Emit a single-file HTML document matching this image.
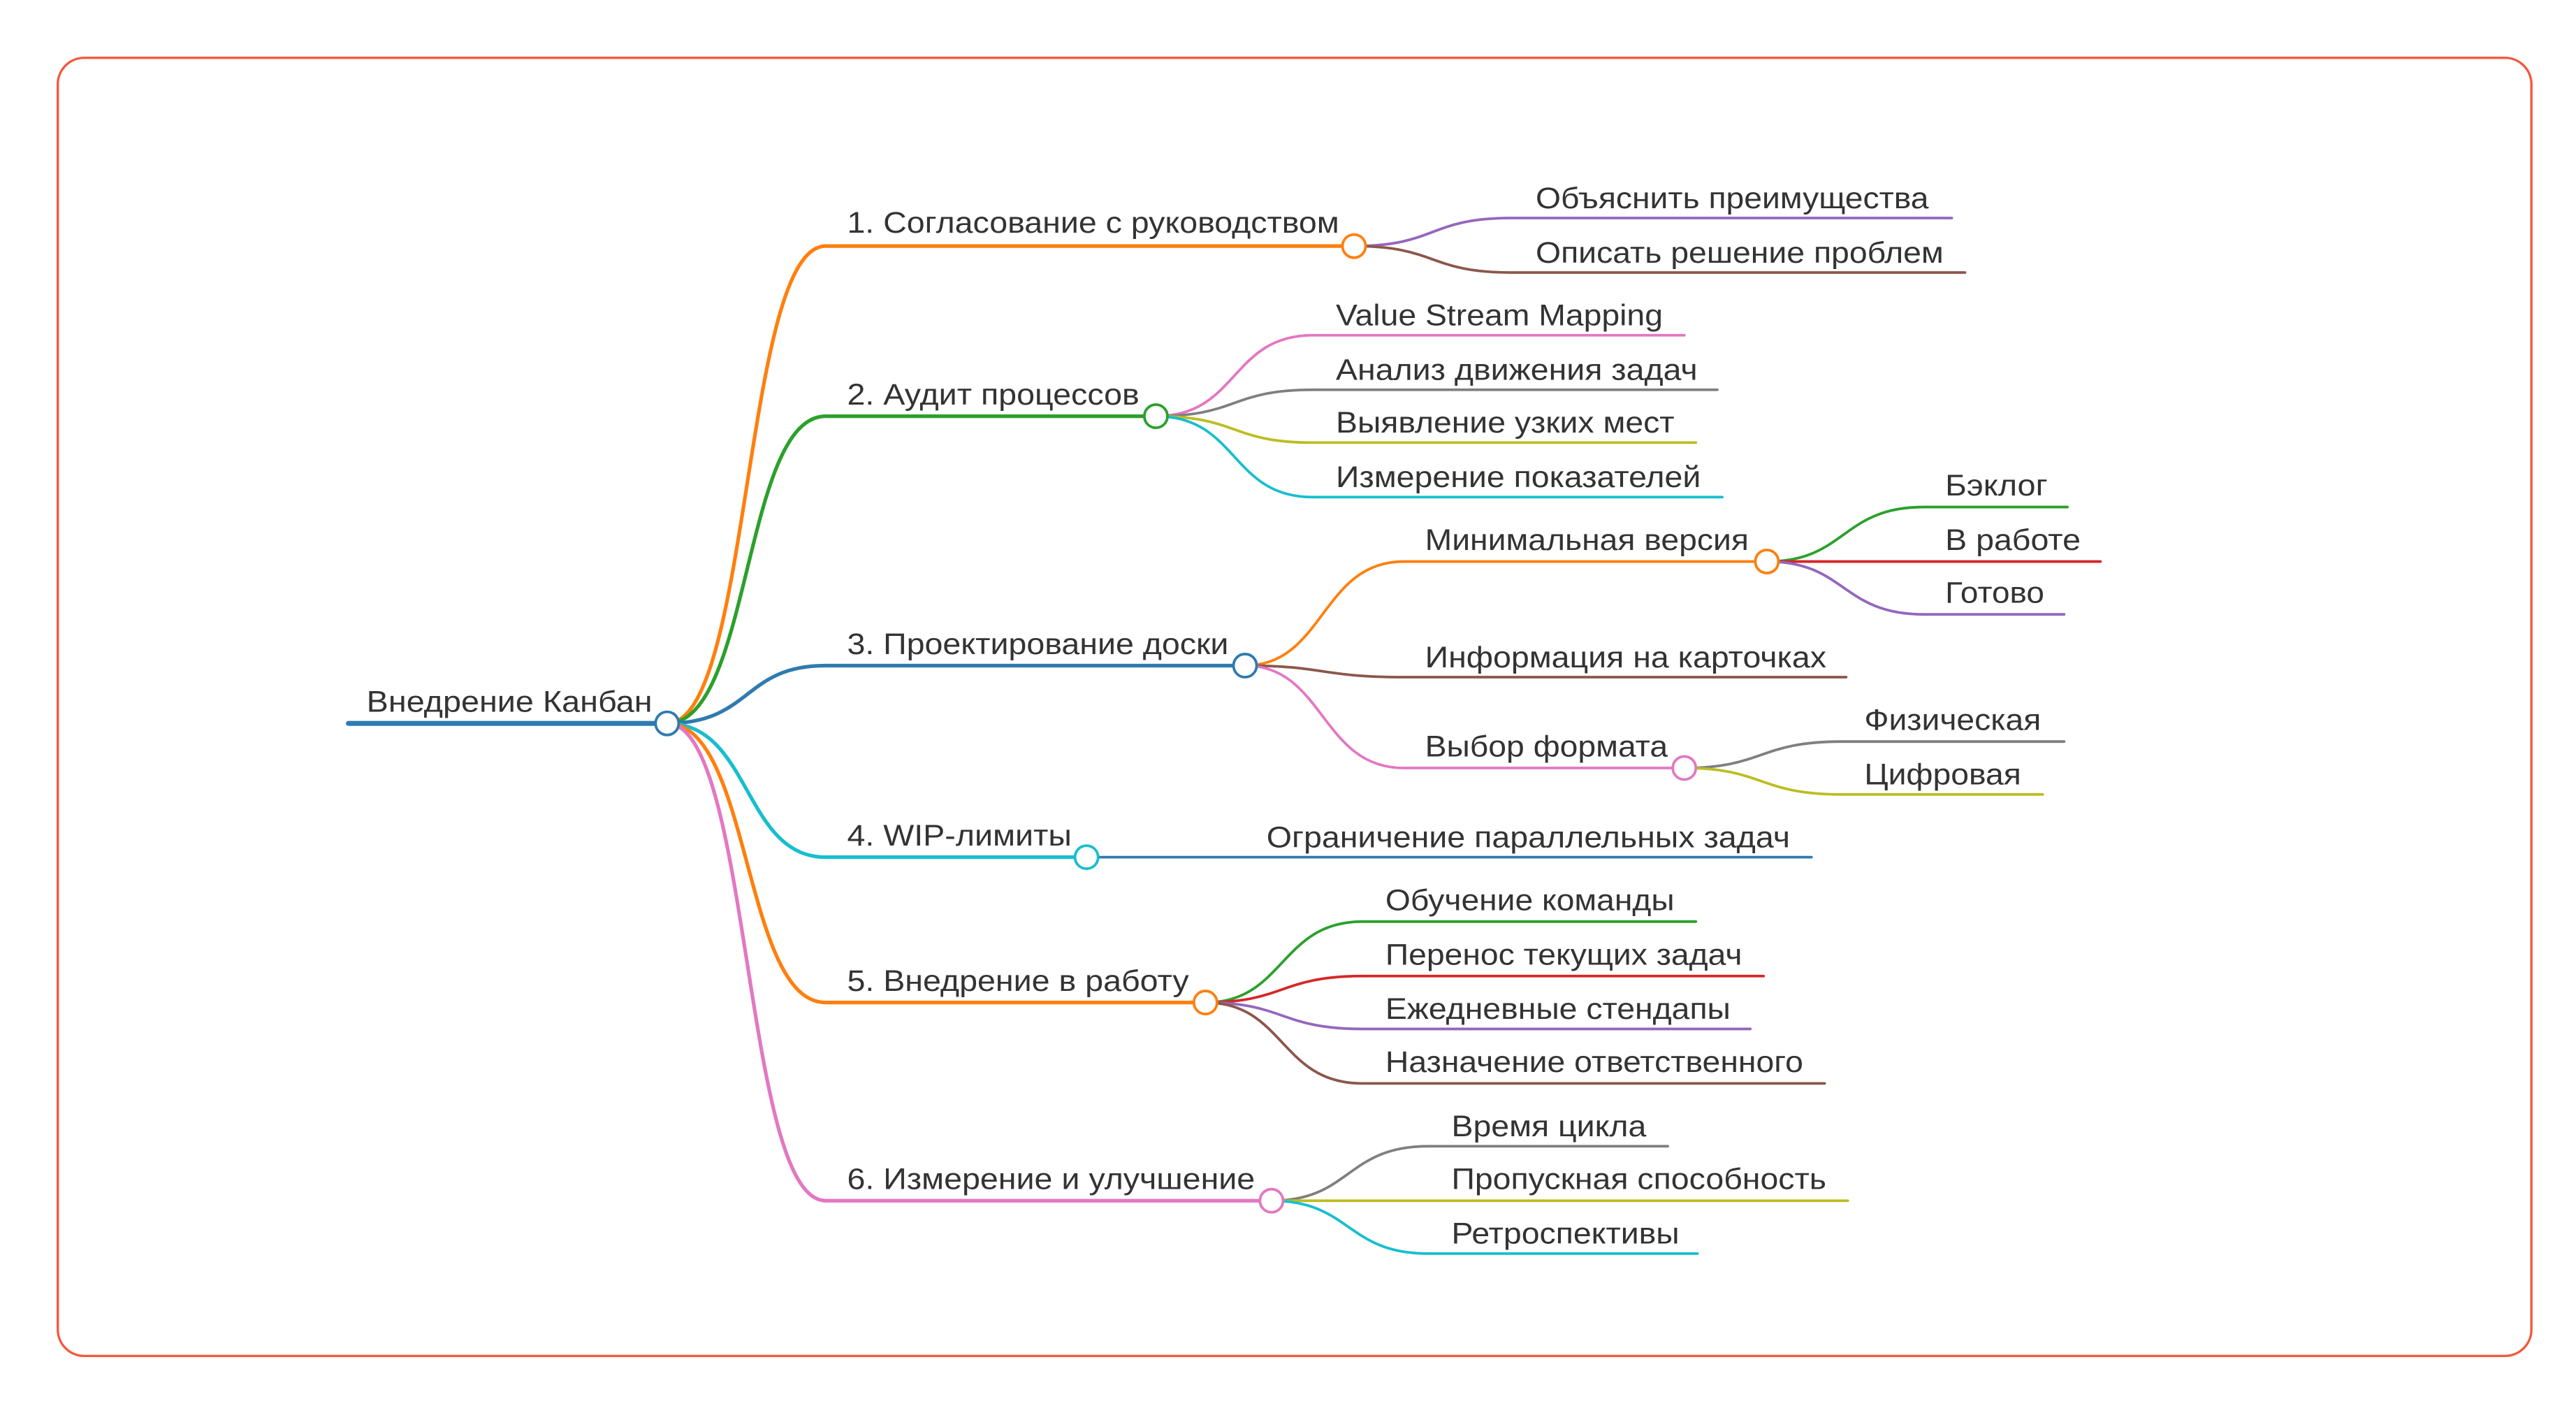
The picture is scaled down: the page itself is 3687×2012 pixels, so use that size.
<!DOCTYPE html>
<html><head><meta charset="utf-8"><style>
html,body{margin:0;padding:0;background:#fff;width:3687px;height:2012px;overflow:hidden}
text{font-family:"Liberation Sans","Noto Sans CJK SC",sans-serif;font-size:18px;fill:#333}
</style></head><body>
<svg width="3687" height="2012" viewBox="0 0 1560 851.3" xmlns="http://www.w3.org/2000/svg">
<rect x="35" y="35" width="1498" height="786" rx="16" fill="none" stroke="#f4563a" stroke-width="1.4"/>
<g fill="none" stroke-linecap="round">
<!-- root -->
<line x1="211" y1="438" x2="404" y2="438" stroke="#2e7bb0" stroke-width="3"/>
<!-- level1 curves + lines -->
<path d="M404,438 C455,438 450,149 500,149 L820,149" stroke="#ff7f0e" stroke-width="2.2"/>
<path d="M404,438 C455,438 450,252 500,252 L700,252" stroke="#2ca02c" stroke-width="2.2"/>
<path d="M404,438 C455,438 450,403 500,403 L754,403" stroke="#2e7bb0" stroke-width="2.2"/>
<path d="M404,438 C455,438 450,519 500,519 L658,519" stroke="#17becf" stroke-width="2.2"/>
<path d="M404,438 C455,438 450,607 500,607 L730,607" stroke="#ff7f0e" stroke-width="2.2"/>
<path d="M404,438 C455,438 450,727 500,727 L770,727" stroke="#e377c2" stroke-width="2.2"/>
<!-- children of 1 -->
<path d="M820,149 C870,149 865,132 915,132 L1182,132" stroke="#9467bd" stroke-width="1.6"/>
<path d="M820,149 C870,149 865,165 915,165 L1190,165" stroke="#8c564b" stroke-width="1.6"/>
<!-- children of 2 -->
<path d="M700,252 C750,252 745,203 795,203 L1020,203" stroke="#e377c2" stroke-width="1.6"/>
<path d="M700,252 C750,252 745,236 795,236 L1040,236" stroke="#7f7f7f" stroke-width="1.6"/>
<path d="M700,252 C750,252 745,268 795,268 L1027,268" stroke="#bcbd22" stroke-width="1.6"/>
<path d="M700,252 C750,252 745,301 795,301 L1043,301" stroke="#17becf" stroke-width="1.6"/>
<!-- children of 3 -->
<path d="M754,403 C802,403 800,340 850,340 L1070,340" stroke="#ff7f0e" stroke-width="1.6"/>
<path d="M754,403 C802,403 800,410 850,410 L1118,410" stroke="#8c564b" stroke-width="1.6"/>
<path d="M754,403 C802,403 800,465 850,465 L1020,465" stroke="#e377c2" stroke-width="1.6"/>
<path d="M1070,340 C1118,340 1115,307 1165,307 L1252,307" stroke="#2ca02c" stroke-width="1.6"/>
<path d="M1070,340 L1272,340" stroke="#d62728" stroke-width="1.6"/>
<path d="M1070,340 C1118,340 1115,372 1165,372 L1250,372" stroke="#9467bd" stroke-width="1.6"/>
<path d="M1020,465 C1068,465 1065,449 1115,449 L1250,449" stroke="#7f7f7f" stroke-width="1.6"/>
<path d="M1020,465 C1068,465 1065,481 1115,481 L1237,481" stroke="#bcbd22" stroke-width="1.6"/>
<!-- child of 4 -->
<path d="M658,519 L1097,519" stroke="#2e7bb0" stroke-width="1.6"/>
<!-- children of 5 -->
<path d="M730,607 C778,607 775,558 825,558 L1027,558" stroke="#2ca02c" stroke-width="1.6"/>
<path d="M730,607 C778,607 775,591 825,591 L1068,591" stroke="#d62728" stroke-width="1.6"/>
<path d="M730,607 C778,607 775,623 825,623 L1060,623" stroke="#9467bd" stroke-width="1.6"/>
<path d="M730,607 C778,607 775,656 825,656 L1105,656" stroke="#8c564b" stroke-width="1.6"/>
<!-- children of 6 -->
<path d="M770,727 C818,727 815,694 865,694 L1010,694" stroke="#7f7f7f" stroke-width="1.6"/>
<path d="M770,727 L1119,727" stroke="#bcbd22" stroke-width="1.6"/>
<path d="M770,727 C818,727 815,759 865,759 L1028,759" stroke="#17becf" stroke-width="1.6"/>
</g>
<!-- circles -->
<g fill="#fff" stroke-width="1.6">
<circle cx="404" cy="438" r="7" stroke="#2e7bb0"/>
<circle cx="820" cy="149" r="7" stroke="#ff7f0e"/>
<circle cx="700" cy="252" r="7" stroke="#2ca02c"/>
<circle cx="754" cy="403" r="7" stroke="#2e7bb0"/>
<circle cx="658" cy="519" r="7" stroke="#17becf"/>
<circle cx="730" cy="607" r="7" stroke="#ff7f0e"/>
<circle cx="770" cy="727" r="7" stroke="#e377c2"/>
<circle cx="1070" cy="340" r="7" stroke="#ff7f0e"/>
<circle cx="1020" cy="465" r="7" stroke="#e377c2"/>
</g>
<!-- labels -->
<g lengthAdjust="spacingAndGlyphs">
<text x="222" y="431" textLength="173" lengthAdjust="spacingAndGlyphs">Внедрение Канбан</text>
<text x="513" y="141" textLength="298" lengthAdjust="spacingAndGlyphs">1. Согласование с руководством</text>
<text x="513" y="245" textLength="177" lengthAdjust="spacingAndGlyphs">2. Аудит процессов</text>
<text x="513" y="396" textLength="231" lengthAdjust="spacingAndGlyphs">3. Проектирование доски</text>
<text x="513" y="512" textLength="136" lengthAdjust="spacingAndGlyphs">4. WIP-лимиты</text>
<text x="513" y="600" textLength="207" lengthAdjust="spacingAndGlyphs">5. Внедрение в работу</text>
<text x="513" y="720" textLength="247" lengthAdjust="spacingAndGlyphs">6. Измерение и улучшение</text>

<text x="930" y="126" textLength="238" lengthAdjust="spacingAndGlyphs">Объяснить преимущества</text>
<text x="930" y="159" textLength="247" lengthAdjust="spacingAndGlyphs">Описать решение проблем</text>

<text x="809" y="197" textLength="198" lengthAdjust="spacingAndGlyphs">Value Stream Mapping</text>
<text x="809" y="230" textLength="219" lengthAdjust="spacingAndGlyphs">Анализ движения задач</text>
<text x="809" y="262" textLength="205" lengthAdjust="spacingAndGlyphs">Выявление узких мест</text>
<text x="809" y="295" textLength="221" lengthAdjust="spacingAndGlyphs">Измерение показателей</text>

<text x="863" y="333" textLength="196" lengthAdjust="spacingAndGlyphs">Минимальная версия</text>
<text x="863" y="404" textLength="243" lengthAdjust="spacingAndGlyphs">Информация на карточках</text>
<text x="863" y="458" textLength="147" lengthAdjust="spacingAndGlyphs">Выбор формата</text>

<text x="1178" y="300" textLength="62" lengthAdjust="spacingAndGlyphs">Бэклог</text>
<text x="1178" y="333" textLength="82" lengthAdjust="spacingAndGlyphs">В работе</text>
<text x="1178" y="365" textLength="60" lengthAdjust="spacingAndGlyphs">Готово</text>

<text x="1129" y="442" textLength="107" lengthAdjust="spacingAndGlyphs">Физическая</text>
<text x="1129" y="475" textLength="95" lengthAdjust="spacingAndGlyphs">Цифровая</text>

<text x="767" y="513" textLength="317" lengthAdjust="spacingAndGlyphs">Ограничение параллельных задач</text>

<text x="839" y="551" textLength="175" lengthAdjust="spacingAndGlyphs">Обучение команды</text>
<text x="839" y="584" textLength="216" lengthAdjust="spacingAndGlyphs">Перенос текущих задач</text>
<text x="839" y="617" textLength="209" lengthAdjust="spacingAndGlyphs">Ежедневные стендапы</text>
<text x="839" y="649" textLength="253" lengthAdjust="spacingAndGlyphs">Назначение ответственного</text>

<text x="879" y="688" textLength="118" lengthAdjust="spacingAndGlyphs">Время цикла</text>
<text x="879" y="720" textLength="227" lengthAdjust="spacingAndGlyphs">Пропускная способность</text>
<text x="879" y="753" textLength="138" lengthAdjust="spacingAndGlyphs">Ретроспективы</text>
</g>
</svg>
</body></html>
